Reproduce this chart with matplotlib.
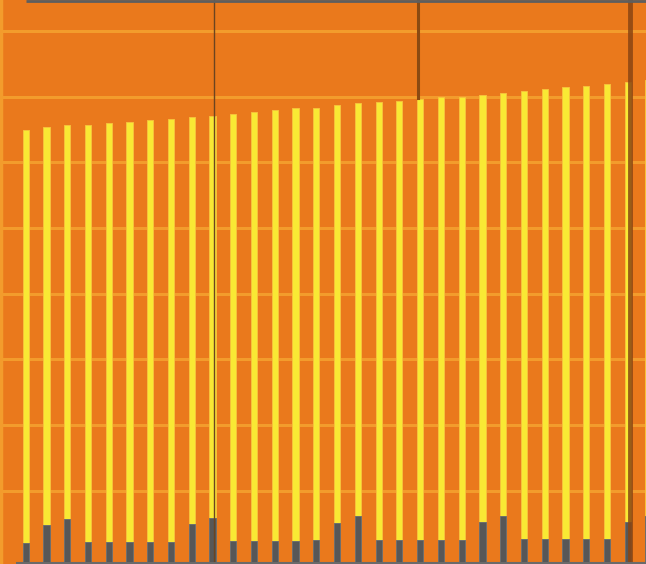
import numpy as np
import matplotlib
matplotlib.use("Agg")
import matplotlib.pyplot as plt

# daily values (arbitrary units, grid step = 100)
total = [659, 663, 666, 667, 670, 672, 675, 676, 679, 681,
         684, 687, 689, 692, 693, 697, 700, 701, 704, 706,
         709, 710, 713, 716, 718, 721, 725, 726, 729, 732, 735]
part = [31, 58, 67, 32, 32, 32, 32, 32, 59, 69,
        33, 34, 34, 34, 35, 61, 71, 35, 35, 35,
        35, 35, 62, 72, 36, 36, 36, 37, 37, 62, 72]
grid_vals = [110, 210, 310, 410, 510, 610, 710, 810]

bg = "#EA791C"
grid_c = "#F39C2C"
yellow = "#F9E934"
gray = "#575757"

x = np.arange(len(total))

fig = plt.figure(figsize=(6.46, 5.64), dpi=100)
fig.patch.set_facecolor(bg)
ax = fig.add_axes([0, 0, 1, 1])
ax.set_facecolor(bg)

ax.bar(x, total, width=0.3, color=yellow, edgecolor="#F7C23A", linewidth=0.7, zorder=3)
ax.bar(x, part, width=0.3, color=gray, edgecolor="#6E6E6E", linewidth=0.7, zorder=4)

for g in grid_vals:
    ax.axhline(g, color=grid_c, lw=2.2, zorder=2)
ax.axvline(-1.19, color=grid_c, lw=2.5, zorder=2)

# markers / frame lines
ax.axvline(9.085, color="#6B4421", lw=1.0, zorder=5)
ax.plot([18.91, 18.91], [708, 860], color="#8A4A12", lw=2.2, zorder=5)
ax.axvline(29.12, color="#8A4512", lw=3.5, alpha=0.85, zorder=5)
ax.hlines(856, 0, 31, color="#5E5E5E", lw=2, zorder=6)
ax.hlines(0, -0.47, 31, color="#6A6A6A", lw=1.5, zorder=6)

ax.set_xlim(-1.238, 29.88)
ax.set_ylim(-1.5, 857)
ax.set_xticks([])
ax.set_yticks([])
for s in ax.spines.values():
    s.set_visible(False)

fig.savefig("out.png", dpi=100, facecolor=bg)
